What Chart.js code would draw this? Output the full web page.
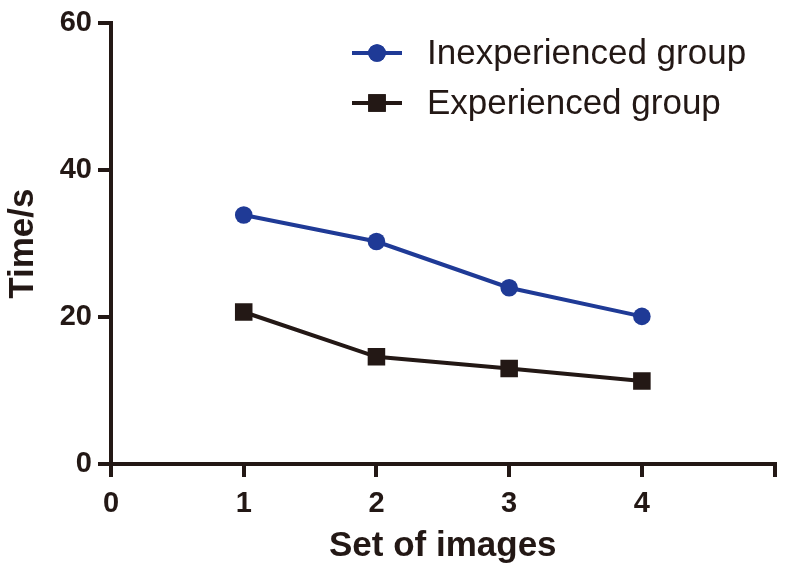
<!DOCTYPE html>
<html>
<head>
<meta charset="utf-8">
<script src="https://cdn.jsdelivr.net/npm/chart.js@4/dist/chart.umd.min.js"></script>
<style>
  html, body { margin: 0; padding: 0; background: #fff; }
  #wrap { width: 787px; height: 577px; }
</style>
</head>
<body>
<div id="wrap"><canvas id="chart" width="787" height="577"></canvas></div>
<script>
// values
const setsOfImages = [1, 2, 3, 4];
const inexperienced = [33.9, 30.3, 24.0, 20.1];
const experienced = [20.7, 14.6, 13.0, 11.3];
const seriesNames = ['Inexperienced group', 'Experienced group'];

const BLUE = '#1f3a96';
const INK = '#231815';
const FONT = '"Liberation Sans", Arial, sans-serif';

const toPoints = (ys) => setsOfImages.map((x, i) => ({ x: x, y: ys[i] }));

// legend with line + marker, like the original figure
const lineLegend = {
  id: 'lineLegend',
  afterDraw(chart) {
    const ctx = chart.ctx;
    chart.data.datasets.forEach((ds, i) => {
      const y = 53 + i * 50;
      ctx.save();
      ctx.strokeStyle = ds.borderColor;
      ctx.lineWidth = ds.borderWidth;
      ctx.beginPath();
      ctx.moveTo(352, y);
      ctx.lineTo(402, y);
      ctx.stroke();
      ctx.fillStyle = ds.pointBackgroundColor;
      Chart.helpers.drawPoint(ctx, { pointStyle: ds.pointStyle, radius: ds.pointRadius, borderWidth: 0 }, 377, y);
      ctx.fill();
      ctx.fillStyle = INK;
      ctx.font = '35px ' + FONT;
      ctx.textBaseline = 'middle';
      ctx.fillText(ds.label, 427, y + 1);
      ctx.restore();
    });
  }
};

const ctx = document.getElementById('chart').getContext('2d');
new Chart(ctx, {
  type: 'line',
  data: {
    datasets: [
      {
        label: seriesNames[0],
        data: toPoints(inexperienced),
        borderColor: BLUE,
        backgroundColor: BLUE,
        pointBackgroundColor: BLUE,
        pointBorderWidth: 0,
        borderWidth: 4,
        pointStyle: 'circle',
        pointRadius: 8.8,
        tension: 0
      },
      {
        label: seriesNames[1],
        data: toPoints(experienced),
        borderColor: INK,
        backgroundColor: INK,
        pointBackgroundColor: INK,
        pointBorderWidth: 0,
        borderWidth: 4,
        pointStyle: 'rect',
        pointRadius: 12.4,
        tension: 0
      }
    ]
  },
  options: {
    responsive: false,
    animation: false,
    layout: { padding: { top: 22, right: 11, left: 0, bottom: 0 } },
    plugins: { legend: { display: false }, tooltip: { enabled: false } },
    scales: {
      x: {
        type: 'linear',
        min: 0,
        max: 5,
        afterFit: (s) => { s.height = 113; },
        ticks: {
          stepSize: 1,
          padding: 10,
          color: INK,
          font: { family: FONT, size: 29, weight: 'bold' },
          callback: (v) => (v === 5 ? '' : v)
        },
        grid: { display: true, drawOnChartArea: false, drawTicks: true, tickLength: 13, lineWidth: 4, color: INK },
        border: { display: true, width: 4, color: INK },
        title: {
          display: true,
          text: 'Set of images',
          color: INK,
          font: { family: FONT, size: 35, weight: 'bold' },
          padding: { top: 0, bottom: 10 }
        }
      },
      y: {
        min: 0,
        max: 60,
        afterFit: (s) => { s.width = 111; },
        ticks: {
          stepSize: 20,
          padding: 6,
          color: INK,
          font: { family: FONT, size: 29, weight: 'bold' }
        },
        grid: { display: true, drawOnChartArea: false, drawTicks: true, tickLength: 13, lineWidth: 4, color: INK },
        border: { display: true, width: 4, color: INK },
        title: {
          display: true,
          text: 'Time/s',
          color: INK,
          font: { family: FONT, size: 35, weight: 'bold' },
          padding: { top: 2, bottom: 0 }
        }
      }
    }
  },
  plugins: [lineLegend]
});
</script>
</body>
</html>
